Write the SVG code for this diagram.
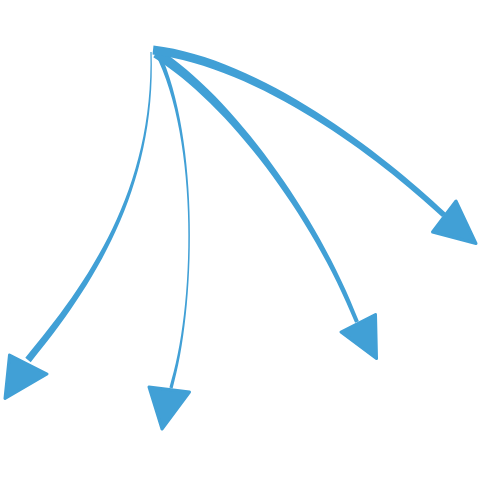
<svg xmlns="http://www.w3.org/2000/svg" width="480" height="480" viewBox="0 0 480 480">
<style>
.edge{fill:#41a0d6;stroke:none}
.head{fill:#41a0d6;stroke:#41a0d6;stroke-width:3;stroke-linejoin:round}
</style>
<rect width="480" height="480" fill="#ffffff"/>
<g id="connectors">
<g id="edge1">
<path class="edge" d="M151.6,52 C156.3,190 92.3,286.9 30.7,362.2 L25.3,357.8 C87.7,283.1 153.7,190 150.4,52 Z"/>
<polygon class="head" points="9.5,355 47,374 5,398.5"/>
</g>
<g id="edge2">
<path class="edge" d="M159.2,50.9 C200.5,139.7 195.3,310.1 172.6,388.5 L169.4,387.5 C194.7,309.9 199.5,140.3 154.8,53.1 Z"/>
<polygon class="head" points="149,387 189.5,392 162,429"/>
</g>
<g id="edge3">
<path class="edge" d="M158.7,48.8 C232.3,96.5 317.6,214 358.9,321.3 L355.1,322.7 C312.4,216 227.7,103.5 153.3,57.2 Z"/>
<polygon class="head" points="375.5,314.5 341,332 376.5,358.5"/>
</g>
<g id="edge4">
<path class="edge" d="M153.5,45.5 C260.5,58.5 382.2,152.7 445.9,213 L442.1,217 C377.8,157.3 259.5,67.5 152.5,54.5 Z"/>
<polygon class="head" points="456,201 432.5,232 476,243.5"/>
</g>
</g>
</svg>
